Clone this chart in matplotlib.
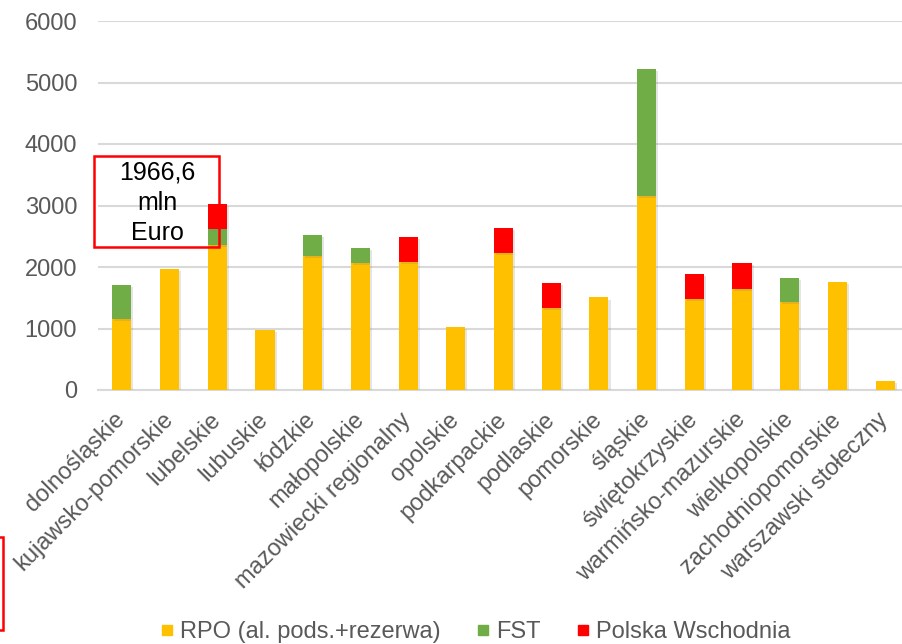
import matplotlib
matplotlib.use("Agg")
import matplotlib.pyplot as plt
from matplotlib.patches import Rectangle
from matplotlib.lines import Line2D
import matplotlib.patheffects as pe
import numpy as np

plt.rcParams['font.family'] = ['Liberation Sans', 'DejaVu Sans']

regions = ["dolnośląskie", "kujawsko-pomorskie", "lubelskie", "lubuskie", "łódzkie",
           "małopolskie", "mazowiecki regionalny", "opolskie", "podkarpackie", "podlaskie",
           "pomorskie", "śląskie", "świętokrzyskie", "warmińsko-mazurskie", "wielkopolskie",
           "zachodniopomorskie", "warszawski stołeczny"]
rpo = [1155, 1967, 2358, 980, 2180, 2060, 2080, 1020, 2222, 1330, 1505, 3160, 1480, 1638, 1430, 1750, 148]
fst = [560, 0, 255, 0, 340, 245, 0, 0, 0, 0, 0, 2060, 0, 0, 385, 0, 0]
pw = [0, 0, 410, 0, 0, 0, 412, 0, 408, 415, 0, 0, 410, 422, 0, 0, 0]
series_names = ["RPO (al. pods.+rezerwa)", "FST", "Polska Wschodnia"]
colors = ["#FFC000", "#70AD47", "#FF0000"]
yticks = [0, 1000, 2000, 3000, 4000, 5000, 6000]
annotation = "1966,6\nmln\nEuro"

W, H = 902, 644
FS = 17
fig = plt.figure(figsize=(W / 100, H / 100), dpi=100)
ax = fig.add_axes([98 / W, 1 - 390 / H, 811 / W, (390 - 21) / H])

x = np.arange(len(regions))
rpo_a = np.array(rpo); fst_a = np.array(fst); pw_a = np.array(pw)
bw = 0.4
shadow = [pe.SimplePatchShadow(offset=(1.5, -1.5), shadow_rgbFace="#808080", alpha=0.2), pe.Normal()]
for vals, bottom, c in [(rpo_a, None, colors[0]), (fst_a, rpo_a, colors[1]), (pw_a, rpo_a + fst_a, colors[2])]:
    bars = ax.bar(x, vals, bw, bottom=bottom, color=c, zorder=3)
    for b in bars:
        if b.get_height() > 0:
            b.set_path_effects(shadow)

ax.set_xlim(-0.5, len(regions) - 0.5)
ax.set_ylim(0, 6000)
ax.set_yticks(yticks)
ax.set_yticklabels([str(v) for v in yticks], fontsize=FS, color="#595959")
ax.yaxis.grid(True, color="#d9d9d9", linewidth=1.5, zorder=0)
ax.set_axisbelow(True)
for s in ["top", "right", "left"]:
    ax.spines[s].set_visible(False)
ax.spines["bottom"].set_color("#d9d9d9")
ax.spines["bottom"].set_linewidth(1.5)
ax.tick_params(axis="both", length=0)
ax.tick_params(axis="y", pad=15)
ax.set_xticks(x)
ax.set_xticklabels(regions, rotation=45, ha="right", va="center", rotation_mode="anchor",
                   fontsize=FS, color="#595959")
ax.tick_params(axis="x", pad=19)

# annotation box (figure pixel coords)
fig.patches.append(Rectangle((94 / W, 1 - 247 / H), (219 - 94) / W, (247 - 156) / H,
                             transform=fig.transFigure, fill=False, edgecolor="#FF0000",
                             linewidth=1.8, zorder=10))
fig.text(157.5 / W, 1 - 203 / H, annotation, ha="center", va="center", fontsize=18,
         color="black", linespacing=1.32, zorder=11)
# partial rectangle at lower left
fig.patches.append(Rectangle((-20 / W, 1 - 630 / H), 23 / W, (630 - 537) / H,
                             transform=fig.transFigure, fill=False, edgecolor="#FF0000",
                             linewidth=1.8, zorder=10))

handles = [Line2D([], [], marker="s", linestyle="none", markersize=7.5, markerfacecolor=c,
                  markeredgecolor=c) for c in colors]
fig.legend(handles, series_names, loc="center", bbox_to_anchor=(476 / W, 1 - 632 / H),
           ncol=3, frameon=False, fontsize=FS, handlelength=0.45, handletextpad=0.3,
           columnspacing=1.6, labelcolor="#595959", borderpad=0, borderaxespad=0)

fig.savefig("out.png", dpi=100)
